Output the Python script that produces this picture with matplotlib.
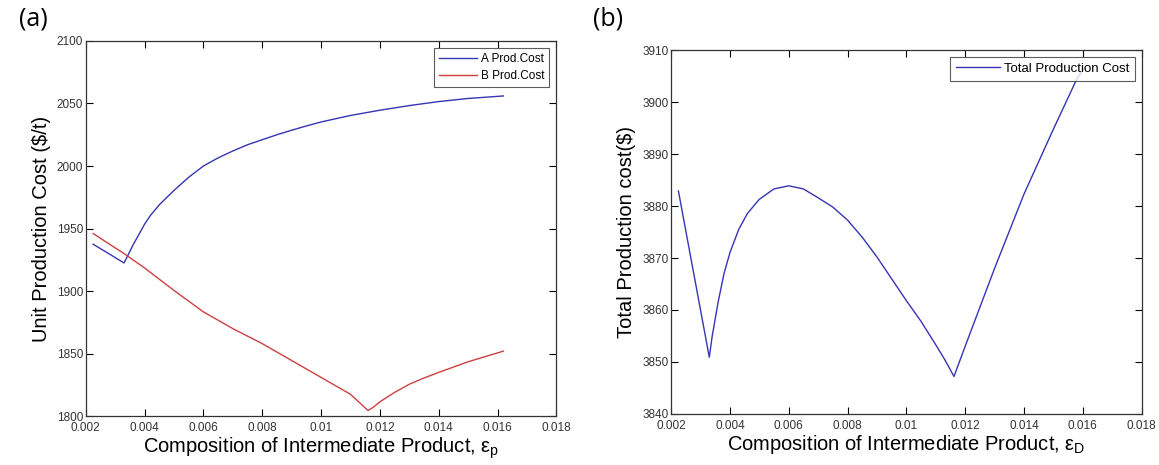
import matplotlib
matplotlib.use("Agg")
import matplotlib.pyplot as plt

plt.rcParams["font.family"] = ["Liberation Sans", "DejaVu Sans"]

# (a) unit production cost
eps_a = [0.00225, 0.0033, 0.0034, 0.0036, 0.0038, 0.004, 0.0042, 0.0045, 0.005, 0.0055,
         0.006, 0.0065, 0.007, 0.0075, 0.008, 0.0085, 0.009, 0.0095, 0.010, 0.011,
         0.012, 0.013, 0.014, 0.015, 0.0162]
cost_a = [1937.5, 1922.5, 1927, 1936.5, 1945, 1953.5, 1960.5, 1969, 1980.5, 1991,
          2000, 2006.5, 2012, 2017, 2021, 2025, 2028.6, 2032, 2035.2, 2040.4,
          2044.6, 2048.3, 2051.5, 2054, 2056]

eps_b = [0.00225, 0.0033, 0.004, 0.005, 0.006, 0.007, 0.008, 0.009, 0.010, 0.011,
         0.0116, 0.0118, 0.012, 0.0125, 0.013, 0.0135, 0.014, 0.015, 0.0162]
cost_b = [1946, 1930, 1918.5, 1900.5, 1883.4, 1870, 1858, 1844.5, 1831, 1817.5,
          1804.5, 1807.5, 1811.5, 1819, 1825.5, 1830.5, 1835, 1843.5, 1852]

# (b) total production cost
eps_t = [0.00225, 0.0033, 0.0034, 0.0036, 0.0038, 0.004, 0.0043, 0.0046, 0.005,
         0.0055, 0.006, 0.0065, 0.007, 0.0075, 0.008, 0.0085, 0.009, 0.0095, 0.010,
         0.0105, 0.011, 0.0113, 0.01162, 0.012, 0.013, 0.014, 0.015, 0.0158, 0.0161]
cost_t = [3882.9, 3850.9, 3855, 3861.5, 3867, 3871, 3875.5, 3878.6, 3881.3,
          3883.3, 3883.9, 3883.3, 3881.6, 3879.8, 3877.3, 3874, 3870.2, 3866, 3861.8,
          3857.8, 3853.3, 3850.5, 3847.2, 3853, 3868, 3882.3, 3894.8, 3904.5, 3907]

xticks = [0.002, 0.004, 0.006, 0.008, 0.01, 0.012, 0.014, 0.016, 0.018]
xticklabels = ["0.002", "0.004", "0.006", "0.008", "0.01", "0.012", "0.014", "0.016", "0.018"]

blue = "#3535b5"
red = "#cc4040"

fig = plt.figure(figsize=(11.59, 4.65), dpi=100)
ax1 = fig.add_axes([0.074, 0.105, 0.406, 0.807])
ax2 = fig.add_axes([0.579, 0.110, 0.406, 0.782])


def style(ax):
    ax.set_xlim(0.002, 0.018)
    ax.set_xticks(xticks)
    ax.set_xticklabels(xticklabels)
    ax.tick_params(direction="in", top=True, right=True, labelsize=8.5,
                   labelcolor="#333333", length=5, width=0.8)
    ax.tick_params(axis="x", pad=4.5)
    ax.tick_params(axis="y", pad=2)
    for s in ax.spines.values():
        s.set_linewidth(0.9)
        s.set_color("#333333")


xlabel = "Composition of Intermediate Product, ε$_\\mathregular{%s}$"

ax1.plot(eps_a, cost_a, color=blue, lw=1.0, label="A Prod.Cost")
ax1.plot(eps_b, cost_b, color=red, lw=1.0, label="B Prod.Cost")
style(ax1)
ax1.set_ylim(1800, 2100)
ax1.set_yticks(range(1800, 2101, 50))
ax1.set_ylabel("Unit Production Cost ($/t)", fontsize=14.5, labelpad=4)
ax1.set_xlabel(xlabel % "p", fontsize=14.5, labelpad=1)
leg = ax1.legend(loc="upper right", fontsize=8.5, frameon=True, fancybox=False,
                 handlelength=3.3, borderpad=0.4, labelspacing=0.45, handletextpad=0.3,
                 borderaxespad=0.6)
leg.get_frame().set_edgecolor("#333333")
leg.get_frame().set_linewidth(0.8)

ax2.plot(eps_t, cost_t, color=blue, lw=1.0, label="Total Production Cost")
style(ax2)
ax2.set_ylim(3840, 3910)
ax2.set_yticks(range(3840, 3911, 10))
ax2.set_ylabel("Total Production cost($)", fontsize=14.5, labelpad=4)
ax2.set_xlabel(xlabel % "D", fontsize=14.5, labelpad=1)
leg2 = ax2.legend(loc="upper right", fontsize=9.5, frameon=True, fancybox=False,
                  handlelength=3.3, borderpad=0.45, handletextpad=0.3, borderaxespad=0.5)
leg2.get_frame().set_edgecolor("#333333")
leg2.get_frame().set_linewidth(0.8)

fig.text(0.016, 0.985, "(a)", fontsize=18, va="top", family=["Open Sans", "DejaVu Sans"])
fig.text(0.512, 0.985, "(b)", fontsize=18, va="top", family=["Open Sans", "DejaVu Sans"])

fig.savefig("out.png", dpi=100)
